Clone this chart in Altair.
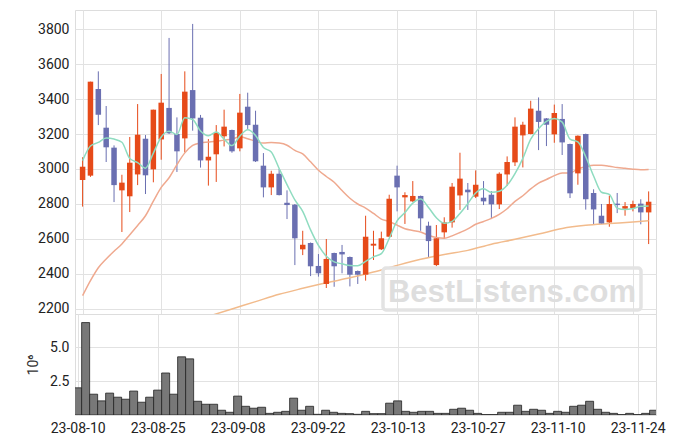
import altair as alt
import pandas as pd

# ---------------- data ----------------
dates = [
    "23-08-10", "23-08-11", "23-08-14", "23-08-16", "23-08-17", "23-08-18", "23-08-21", "23-08-22",
    "23-08-23", "23-08-24", "23-08-25", "23-08-28", "23-08-29", "23-08-30", "23-08-31", "23-09-01",
    "23-09-04", "23-09-05", "23-09-06", "23-09-07", "23-09-08", "23-09-11", "23-09-12", "23-09-13",
    "23-09-14", "23-09-15", "23-09-18", "23-09-19", "23-09-20", "23-09-21", "23-09-22", "23-09-25",
    "23-09-26", "23-09-27", "23-10-04", "23-10-05", "23-10-06", "23-10-10", "23-10-11", "23-10-12",
    "23-10-13", "23-10-16", "23-10-17", "23-10-18", "23-10-19", "23-10-20", "23-10-23", "23-10-24",
    "23-10-25", "23-10-26", "23-10-27", "23-10-30", "23-10-31", "23-11-01", "23-11-02", "23-11-03",
    "23-11-06", "23-11-07", "23-11-08", "23-11-09", "23-11-10", "23-11-13", "23-11-14", "23-11-15",
    "23-11-16", "23-11-17", "23-11-20", "23-11-21", "23-11-22", "23-11-23", "23-11-24", "23-11-27",
    "23-11-28",
]
opens = [2937, 2962, 3457, 3236, 3122, 2878, 2844, 2969, 3173, 2998,
         3169, 3349, 3200, 3175, 3451, 3293, 3049, 3084, 3187, 3223,
         3118, 3356, 3253, 3019, 2895, 2973, 2807, 2796, 2541, 2577,
         2446, 2343, 2520, 2526, 2497, 2417, 2396, 2562, 2541, 2613,
         2962, 2838, 2815, 2846, 2676, 2451, 2638, 2695, 2849, 2882,
         2842, 2836, 2853, 2798, 2969, 3038, 3192, 3200, 3333, 3289,
         3198, 3286, 3143, 2975, 3200, 2863, 2733, 2695, 2802, 2773,
         2777, 2802, 2752]
highs = [3067, 3499, 3558, 3360, 3135, 2967, 3183, 3371, 3194, 3339,
         3543, 3749, 3295, 3558, 3829, 3309, 3171, 3251, 3339, 3225,
         3429, 3436, 3333, 3091, 2990, 3000, 2878, 2800, 2647, 2580,
         2514, 2600, 2522, 2566, 2500, 2420, 2733, 2647, 2642, 2853,
         3019, 2867, 2931, 2848, 2699, 2680, 2724, 2920, 3093, 2920,
         2992, 2931, 2874, 2981, 3072, 3295, 3270, 3390, 3409, 3291,
         3368, 3371, 3145, 3192, 3202, 2884, 2800, 2848, 2863, 2811,
         2819, 2827, 2872]
lows = [2785, 2955, 3251, 3040, 2811, 2640, 2754, 2908, 2857, 2924,
        3053, 3200, 2983, 3095, 3219, 3008, 2905, 2926, 3129, 3093,
        3101, 3229, 3040, 2838, 2851, 2849, 2714, 2451, 2508, 2388,
        2385, 2320, 2327, 2404, 2329, 2343, 2362, 2480, 2537, 2610,
        2758, 2686, 2812, 2647, 2497, 2444, 2600, 2665, 2766, 2766,
        2834, 2794, 2714, 2771, 2903, 3017, 3009, 3198, 3108, 3131,
        3150, 3080, 2834, 2910, 2768, 2680, 2687, 2670, 2748, 2733,
        2758, 2684, 2571]
closes = [3013, 3499, 3310, 3124, 2908, 2922, 3036, 3196, 2964, 3339,
          3379, 3204, 3101, 3442, 3289, 3049, 3070, 3206, 3242, 3101,
          3322, 3251, 3044, 2895, 2973, 2851, 2794, 2604, 2567, 2444,
          2404, 2486, 2444, 2512, 2396, 2396, 2613, 2573, 2604, 2830,
          2895, 2851, 2846, 2718, 2588, 2604, 2695, 2899, 2945, 2867,
          2910, 2815, 2798, 2973, 3040, 3242, 3253, 3345, 3269, 3253,
          3320, 3152, 2861, 3190, 2827, 2769, 2689, 2800, 2794, 2788,
          2800, 2752, 2813]
volumes = [2.0, 6.8, 1.53, 1.04, 1.61, 1.31, 1.16, 1.76, 0.94, 1.31,
           1.83, 3.09, 1.53, 4.28, 4.13, 1.01, 0.79, 0.79, 0.35, 0.2,
           1.39, 0.64, 0.5, 0.57, 0.12, 0.2, 0.27, 1.24, 0.35, 0.64,
           0.05, 0.35, 0.2, 0.12, 0.1, 0.05, 0.27, 0.1, 0.1, 0.87,
           1.04, 0.27, 0.2, 0.27, 0.27, 0.12, 0.12, 0.42, 0.5, 0.35,
           0.12, 0.03, 0.03, 0.2, 0.2, 0.72, 0.27, 0.42, 0.35, 0.12,
           0.27, 0.2, 0.64, 0.72, 1.01, 0.42, 0.2, 0.12, 0.03, 0.12,
           0.03, 0.12, 0.35]
ma5 = [3048, 3131, 3152, 3177, 3171, 3153, 3060, 3037, 3005, 3091,
       3183, 3216, 3197, 3293, 3283, 3217, 3190, 3211, 3171, 3134,
       3188, 3224, 3192, 3123, 3097, 3003, 2911, 2823, 2758, 2652,
       2563, 2501, 2469, 2458, 2448, 2447, 2472, 2498, 2516, 2603,
       2703, 2751, 2805, 2828, 2780, 2721, 2690, 2701, 2746, 2802,
       2863, 2887, 2867, 2873, 2907, 2974, 3061, 3171, 3230, 3272,
       3288, 3268, 3171, 3155, 3070, 2960, 2867, 2855, 2776, 2768,
       2774, 2787, 2789]
ma20 = [2276, 2362, 2436, 2486, 2530, 2572, 2624, 2677, 2733, 2816,
        2895, 2950, 3025, 3092, 3135, 3149, 3154, 3159, 3165, 3170,
        3185, 3173, 3159, 3148, 3151, 3148, 3136, 3106, 3086, 3041,
        2993, 2957, 2924, 2877, 2833, 2800, 2777, 2746, 2714, 2700,
        2679, 2659, 2649, 2640, 2621, 2608, 2604, 2618, 2637, 2658,
        2684, 2700, 2718, 2741, 2773, 2815, 2847, 2886, 2919, 2940,
        2962, 2977, 2977, 3001, 3013, 3021, 3021, 3016, 3008, 3004,
        2999, 2996, 2997]
ma60_idx = [16, 19, 22, 25, 28, 31, 34, 37, 40, 43, 46, 49, 52, 55, 58, 61, 64, 67, 70, 72]
ma60_val = [2158, 2200, 2242, 2284, 2318, 2350, 2378, 2411, 2449, 2484,
            2512, 2535, 2570, 2598, 2628, 2660, 2678, 2688, 2697, 2704]
price_ticks = [2200, 2400, 2600, 2800, 3000, 3200, 3400, 3600, 3800]
volume_ticks = [2.5, 5.0]
watermark = "BestListens.com"

# ---------------- tables ----------------
idx = list(range(len(dates)))
df = pd.DataFrame({"i": idx, "date": dates, "open": opens, "high": highs, "low": lows,
                   "close": closes, "vol": volumes, "ma5": ma5, "ma20": ma20})
df60 = pd.DataFrame({"i": ma60_idx, "ma60": ma60_val})
wm = pd.DataFrame({"t": [watermark]})

tick_idx = list(range(0, len(dates), 10))
tick_labels = [dates[k] for k in tick_idx]
label_expr = "[" + ",".join("'%s'" % t for t in tick_labels) + "][round(datum.value/10)]"

FONT = "Roboto"
UP = "#e64a19"
DOWN = "#6a6fb1"
GRID = "#e2e2e2"
W = 581

x_scale = alt.Scale(domain=[-0.33, 72.3], nice=False, zero=False)
p_scale = alt.Scale(domain=[2171.4, 3908.6], nice=False, zero=False)
v_scale = alt.Scale(domain=[0, 7.43], nice=False, zero=False)

x_top_axis = alt.Axis(values=tick_idx, labels=False, ticks=False, domain=False,
                      title=None, grid=True, gridColor=GRID)
x_bot_axis = alt.Axis(values=tick_idx, labelExpr=label_expr, ticks=False, domain=False,
                      title=None, grid=True, gridColor=GRID, labelPadding=6,
                      labelFont=FONT, labelFontSize=14, labelColor="#222",
                      labelOverlap=False, labelFlush=False)
p_axis = alt.Axis(values=price_ticks, title=None, ticks=False, domain=False,
                  grid=True, gridColor=GRID, labelPadding=6, format="d",
                  labelOverlap=False, labelFlush=False,
                  labelFont=FONT, labelFontSize=14, labelColor="#222")


def X(field):
    return alt.X(field, type="quantitative", scale=x_scale, axis=x_top_axis)


def Y(field):
    return alt.Y(field, type="quantitative", scale=p_scale, axis=p_axis)


color = alt.condition("datum.close >= datum.open", alt.value(UP), alt.value(DOWN))
base = alt.Chart(df)

wicks = base.mark_rule(strokeWidth=1).encode(x=X("i"), y=Y("low"), y2="high:Q", color=color)
bodies = base.mark_bar(size=5.5).encode(x=X("i"), y=Y("open"), y2="close:Q", color=color)
line5 = base.mark_line(interpolate="monotone", strokeWidth=1.5, color="#8fdcc0", clip=True).encode(
    x=X("i"), y=Y("ma5"))
line20 = base.mark_line(interpolate="monotone", strokeWidth=1.5, color="#efa98f", clip=True).encode(
    x=X("i"), y=Y("ma20"))
line60 = alt.Chart(df60).mark_line(interpolate="monotone", strokeWidth=1.5, color="#f2bb8c",
                                   clip=True).encode(x=X("i"), y=Y("ma60"))
wm_box = alt.Chart(wm).mark_rect(filled=False, stroke="#e3e3e3", strokeWidth=3.5,
                                 cornerRadius=3).encode(
    x=alt.value(308), x2=alt.value(566), y=alt.value(258), y2=alt.value(300))
wm_text = alt.Chart(wm).mark_text(font="Liberation Sans", fontWeight="bold", fontSize=31,
                                  color="#dedede", align="center", baseline="alphabetic").encode(
    text="t:N", x=alt.value(437), y=alt.value(292))

price = alt.layer(wicks, line60, line20, bodies, line5, wm_box, wm_text).properties(
    width=W, height=304)

vol = alt.Chart(df).transform_calculate(x0="datum.i - 0.5", x1="datum.i + 0.5").mark_bar(
    color="#787878", stroke="#222222", strokeWidth=0.8, clip=True).encode(
    x=alt.X("x0:Q", scale=x_scale, axis=x_bot_axis), x2="x1:Q",
    y=alt.Y("vol:Q", scale=v_scale,
            axis=alt.Axis(values=volume_ticks, format=".1f", title="10⁶", ticks=False,
                          domain=False, grid=True, gridColor=GRID, labelPadding=6,
                          labelFont=FONT, labelFontSize=14, labelColor="#222",
                          titleFont=FONT, titleFontSize=14, titleFontWeight="normal",
                          titleColor="#333", titlePadding=9)),
    y2=alt.datum(0)
).properties(width=W, height=101)

chart = alt.vconcat(price, vol, spacing=0, bounds="flush").properties(
    padding={"left": 26, "top": 9, "right": 5, "bottom": 5}
).configure_view(stroke="#cccccc").configure(background="white")

chart.save("out.html", embed_options={"renderer": "svg", "actions": False})
